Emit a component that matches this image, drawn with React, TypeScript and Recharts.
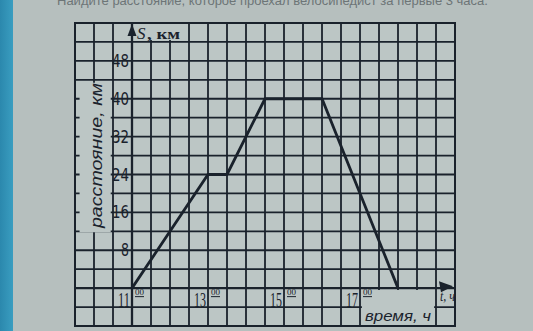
import React from 'react';
import {
  LineChart,
  Line,
  XAxis,
  YAxis,
  CartesianGrid,
  ReferenceLine,
  ReferenceArea,
  ReferenceDot,
} from 'recharts';

// the trip: time of day (hours) and distance from home (km)
const hours = [11, 13, 13.5, 14.5, 16, 18];
const distanceKm = [0, 24, 24, 40, 40, 0];

// grid of the squared paper: a cell is 30 min by 4 km
const timeGrid = [9.5, 10, 10.5, 11, 11.5, 12, 12.5, 13, 13.5, 14, 14.5, 15, 15.5, 16, 16.5, 17, 17.5, 18, 18.5, 19, 19.5];
const kmGrid = [-8, -4, 0, 4, 8, 12, 16, 20, 24, 28, 32, 36, 40, 44, 48, 52, 56];

const kmLabels = [8, 16, 24, 32, 40, 48];
const hourLabels = [11, 13, 15, 17];

const data = hours.map((t, i) => ({ t, s: distanceKm[i] }));

const INK = '#1a222c';
const PAPER = '#b6bfbe';
const CELL = '#bcc6c5';
const NARROW = "'Liberation Sans Narrow', 'DejaVu Sans Condensed', 'Liberation Sans', sans-serif";
const SERIF = "'Liberation Serif', 'DejaVu Serif', serif";
const SANS = "'Liberation Sans', 'DejaVu Sans', sans-serif";

const noTick = () => <g />;

const kmTick = (v: number) => (p: any) => (
  <text
    x={p.cx - 3}
    y={p.cy + 6}
    textAnchor="end"
    fontFamily={NARROW}
    fontSize={18}
    fill={INK}
    textLength={v < 10 ? 8 : 17}
    lengthAdjust="spacingAndGlyphs"
  >
    {v}
  </text>
);

const hourTick = (v: number) => (p: any) => (
  <g>
    <text
      x={p.cx - 2}
      y={p.cy + 19}
      textAnchor="end"
      fontFamily={SERIF}
      fontSize={20}
      fill={INK}
      textLength={12}
      lengthAdjust="spacingAndGlyphs"
    >
      {v}
    </text>
    <text
      x={p.cx + 3}
      y={p.cy + 7}
      fontFamily={SERIF}
      fontSize={9}
      fill={INK}
      textLength={9}
      lengthAdjust="spacingAndGlyphs"
    >
      00
    </text>
    <line x1={p.cx + 3} x2={p.cx + 12} y1={p.cy + 8.5} y2={p.cy + 8.5} stroke={INK} strokeWidth={1} />
  </g>
);

const yArrow = (p: any) => (
  <g>
    <polygon points={`${p.cx},${p.cy + 1} ${p.cx - 4.5},${p.cy + 13} ${p.cx + 4.5},${p.cy + 13}`} fill={INK} />
    <text x={p.cx + 5} y={p.cy + 16} fontFamily={SERIF} fontStyle="italic" fontSize={17} fill={INK}>
      S
    </text>
    <text
      x={p.cx + 15}
      y={p.cy + 16}
      fontFamily={SERIF}
      fontSize={15}
      fontWeight="bold"
      fill={INK}
      textLength={33}
      lengthAdjust="spacingAndGlyphs"
    >
      , км
    </text>
  </g>
);

const xArrow = (p: any) => (
  <g>
    <polygon points={`${p.cx - 2},${p.cy - 2} ${p.cx - 16},${p.cy - 7} ${p.cx - 14},${p.cy + 4}`} fill={INK} />
    <text
      x={p.cx - 15}
      y={p.cy + 13}
      fontFamily={SERIF}
      fontStyle="italic"
      fontSize={14}
      fill={INK}
      textLength={15}
      lengthAdjust="spacingAndGlyphs"
    >
      t, ч
    </text>
  </g>
);

const yTitle = (p: any) => (
  <text
    x={p.cx + 2}
    y={p.cy}
    transform={`rotate(-90 ${p.cx + 2} ${p.cy})`}
    textAnchor="middle"
    dominantBaseline="central"
    fontFamily={SANS}
    fontStyle="italic"
    fontSize={17}
    fill={INK}
    textLength={145}
    lengthAdjust="spacingAndGlyphs"
  >
    расстояние, км
  </text>
);

const xTitle = (p: any) => (
  <text
    x={p.cx}
    y={p.cy + 4}
    textAnchor="middle"
    fontFamily={SANS}
    fontStyle="italic"
    fontSize={14}
    fill={INK}
    textLength={66}
    lengthAdjust="spacingAndGlyphs"
  >
    время, ч
  </text>
);

export default function App() {
  return (
    <div
      style={{
        position: 'fixed',
        left: 0,
        top: 0,
        width: 533,
        height: 331,
        overflow: 'hidden',
        background: PAPER,
      }}
    >
      <div
        style={{
          position: 'absolute',
          left: 0,
          top: 0,
          width: 13,
          height: 331,
          background: 'linear-gradient(90deg, #2b88ad, #3a9dc0)',
        }}
      />
      <div
        style={{
          position: 'absolute',
          left: 57,
          top: -6,
          whiteSpace: 'nowrap',
          fontFamily: SANS,
          fontSize: 13,
          lineHeight: '13px',
          color: '#6d7577',
        }}
      >
        Найдите расстояние, которое проехал велосипедист за первые 3 часа.
      </div>
      <div style={{ position: 'absolute', left: 0, top: 0 }}>
        <LineChart width={533} height={331} data={data} margin={{ top: 23, right: 78, bottom: 5, left: 75 }}>
          <CartesianGrid
            stroke={INK}
            strokeWidth={1.8}
            fill={CELL}
            fillOpacity={1}
            syncWithTicks
          />
          <XAxis
            dataKey="t"
            type="number"
            domain={[9.5, 19.5]}
            ticks={timeGrid}
            interval={0}
            height={0}
            tick={noTick}
            tickLine={false}
            axisLine={false}
          />
          <YAxis
            type="number"
            domain={[-8, 56]}
            ticks={kmGrid}
            interval={0}
            width={0}
            tick={noTick}
            tickLine={false}
            axisLine={false}
          />
          <ReferenceArea x1={9.5} x2={19.5} y1={-8} y2={56} fill="none" stroke={INK} strokeWidth={2} ifOverflow="visible" />
          <ReferenceArea x1={9.62} x2={10.44} y1={11.8} y2={43.4} fill={CELL} fillOpacity={1} stroke="none" ifOverflow="visible" />
          <ReferenceArea x1={17.05} x2={18.95} y1={-7.8} y2={-0.4} fill={CELL} fillOpacity={1} stroke="none" ifOverflow="visible" />
          <ReferenceArea x1={11.08} x2={12.4} y1={52.4} y2={55.8} fill={CELL} fillOpacity={1} stroke="none" ifOverflow="visible" />
          <ReferenceLine x={11} stroke={INK} strokeWidth={2.3} />
          <ReferenceLine y={0} stroke={INK} strokeWidth={2.3} />
          <Line
            type="linear"
            dataKey="s"
            stroke={INK}
            strokeWidth={2.8}
            dot={false}
            isAnimationActive={false}
          />
          {kmLabels.map((v) => (
            <ReferenceDot key={`k${v}`} x={11} y={v} r={0} ifOverflow="visible" shape={kmTick(v)} />
          ))}
          {hourLabels.map((v) => (
            <ReferenceDot key={`h${v}`} x={v} y={0} r={0} ifOverflow="visible" shape={hourTick(v)} />
          ))}
          <ReferenceDot x={11} y={56} r={0} ifOverflow="visible" shape={yArrow} />
          <ReferenceDot x={19.5} y={0} r={0} ifOverflow="visible" shape={xArrow} />
          <ReferenceDot x={10} y={28} r={0} ifOverflow="visible" shape={yTitle} />
          <ReferenceDot x={18} y={-6} r={0} ifOverflow="visible" shape={xTitle} />
        </LineChart>
      </div>
    </div>
  );
}
